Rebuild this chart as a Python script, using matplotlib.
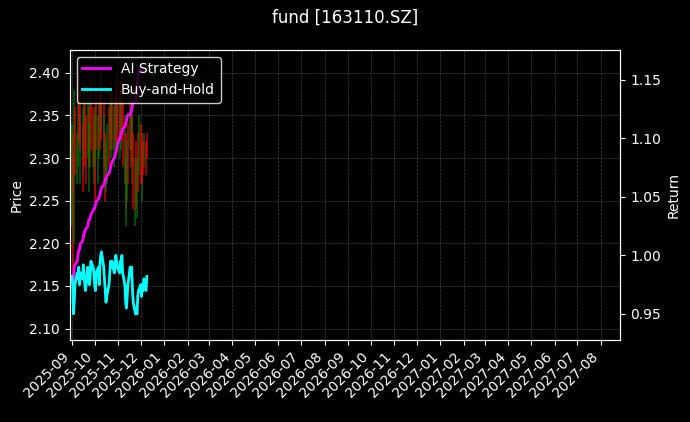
import matplotlib
matplotlib.use("Agg")
import matplotlib.pyplot as plt
import matplotlib.dates as mdates
import pandas as pd
import numpy as np

plt.style.use("dark_background")

dates = pd.bdate_range("2025-09-01", periods=72)
strategy = [0.982,0.982,0.975,0.990,0.992,0.995,1.000,1.005,1.005,1.010,1.012,1.015,1.020,1.020,1.022,
            1.025,1.030,1.030,1.032,1.035,1.038,1.040,1.040,1.043,1.046,1.048,1.050,1.052,1.055,1.058,
            1.060,1.062,1.065,1.065,1.068,1.070,1.072,1.075,1.078,1.080,1.083,1.085,1.088,1.090,1.095,
            1.100,1.100,1.105,1.105,1.108,1.110,1.112,1.115,1.118,1.120,1.120,1.122,1.125,1.128,1.130,
            1.132,1.135,1.140,1.150,1.158,1.160,1.158,1.160,1.158,1.160,1.158,1.160]
buyhold = [0.982,0.975,0.950,0.960,0.975,0.985,0.980,0.990,0.975,0.985,0.980,0.992,0.985,0.975,0.970,
           0.990,0.985,0.975,0.980,0.995,0.990,0.985,0.975,0.970,0.985,0.990,0.975,0.992,1.000,1.003,
           0.990,0.980,0.970,0.960,0.965,0.975,0.985,0.995,0.990,0.995,0.985,0.990,1.000,0.995,0.990,
           0.985,0.995,0.990,1.000,0.985,0.975,0.960,0.955,0.965,0.975,0.990,0.985,0.990,0.970,0.960,
           0.950,0.955,0.950,0.965,0.970,0.975,0.965,0.975,0.970,0.980,0.970,0.982]
high = [2.34,2.33,2.30,2.38,2.36,2.33,2.38,2.40,2.35,2.38,2.36,2.34,2.39,2.37,2.35,
        2.38,2.36,2.34,2.37,2.39,2.36,2.35,2.33,2.36,2.38,2.35,2.37,2.38,2.40,2.39,
        2.37,2.35,2.33,2.32,2.34,2.36,2.38,2.39,2.37,2.38,2.36,2.37,2.39,2.40,2.38,
        2.37,2.39,2.38,2.40,2.37,2.35,2.33,2.30,2.32,2.34,2.38,2.37,2.38,2.35,2.33,
        2.30,2.32,2.30,2.33,2.35,2.34,2.31,2.33,2.32,2.33,2.32,2.33]
low = [2.22,2.26,2.12,2.20,2.28,2.27,2.29,2.32,2.27,2.31,2.28,2.26,2.30,2.29,2.27,
       2.30,2.29,2.26,2.29,2.31,2.29,2.27,2.25,2.29,2.31,2.27,2.30,2.31,2.33,2.32,
       2.29,2.27,2.25,2.26,2.27,2.29,2.31,2.32,2.30,2.31,2.29,2.30,2.32,2.33,2.31,
       2.30,2.32,2.31,2.33,2.29,2.27,2.24,2.22,2.25,2.27,2.31,2.29,2.31,2.27,2.24,
       2.22,2.24,2.23,2.26,2.28,2.27,2.25,2.27,2.28,2.29,2.28,2.30]
up = [1,0,0,1,0,1,1,0,1,0,1,0,1,0,0,1,0,1,1,0,0,1,0,1,0,1,1,0,1,0,
      0,1,0,1,1,0,1,0,1,0,1,1,0,1,0,1,0,1,0,0,1,0,1,1,0,1,0,0,1,0,
      1,0,1,0,1,0,1,0,0,1,0,0]

fig, ax = plt.subplots(figsize=(6.9, 4.22), dpi=100)
fig.subplots_adjust(left=0.101, right=0.899, top=0.882, bottom=0.195)
fig.patch.set_facecolor("black")
ax.set_facecolor("black")
cols = ["green" if u else "red" for u in up]
ax.vlines(dates, low, high, colors=cols, alpha=0.7, linewidth=1.2)
ax.set_ylim(2.087, 2.427)
ax.set_ylabel("Price")
ax.grid(True, linestyle="--", color="gray", alpha=0.5, linewidth=0.5)

ax2 = ax.twinx()
ax2.plot(dates, strategy, color="magenta", lw=2, label="AI Strategy")
ax2.plot(dates, buyhold, color="cyan", lw=2, label="Buy-and-Hold")
ax2.set_ylim(0.928, 1.1756)
ax2.set_ylabel("Return")
ax2.legend(loc="upper left", facecolor="black", edgecolor="white")

ax.set_xlim(pd.Timestamp("2025-08-29"), pd.Timestamp("2027-08-27"))
ax.xaxis.set_major_locator(mdates.MonthLocator())
ax.xaxis.set_major_formatter(mdates.DateFormatter("%Y-%m"))
plt.setp(ax.get_xticklabels(), rotation=45, ha="right")
fig.suptitle("fund [163110.SZ]")
fig.savefig("out.png", dpi=100, facecolor="black")
